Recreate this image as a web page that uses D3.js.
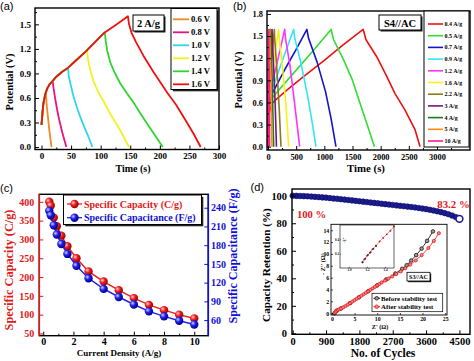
<!DOCTYPE html>
<html lang="en">
<head>
<meta charset="utf-8">
<title>GCD / rate / cycling figure</title>
<script src="https://cdnjs.cloudflare.com/ajax/libs/d3/7.8.5/d3.min.js"></script>
<style>
  body { margin: 0; background: #fff; }
  svg text { font-family: "Liberation Serif", "Times New Roman", serif; font-weight: bold; }
  .plab { font-family: "Liberation Sans", Arial, sans-serif !important; font-weight: normal !important; font-size: 11px; }
</style>
</head>
<body>
<svg id="fig" width="474" height="361"></svg>
<script>
// ---------- panel (a): GCD at 2 A/g, different voltage windows ----------
var aLabels = ["0.6 V", "0.8 V", "1.0 V", "1.2 V", "1.4 V", "1.6 V"];
var aColors = ["#f08a24", "#e8157e", "#2fd6ec", "#f2f21e", "#2fd62f", "#ee1111"];
var aCharge = [[0,0.27],[1,0.36],[2,0.45],[3,0.52],[5,0.6],[7,0.66],[10,0.72],[14,0.77],[18,0.8],
               [25,0.86],[35,0.92],[45,0.97],[60,1.07],[75,1.17],[90,1.28],[105,1.39],[125,1.49],[146,1.6]];
var aDis06 = [[8,0.6],[9,0.5],[11,0.36],[13,0.22],[15,0.11],[17,0]];
var aDis08 = [[19,0.8],[20,0.74],[22.5,0.62],[26,0.47],[30,0.33],[35,0.18],[42,0]];
var aDis10 = [[45,0.96],[46,0.87],[50,0.74],[54,0.62],[60,0.48],[66,0.36],[72,0.25],[78,0.15],[86,0]];
var aDis12 = [[77,1.18],[78.5,1.08],[82,0.95],[88,0.8],[96,0.67],[105,0.56],[115,0.42],[125,0.3],[135,0.18],[142,0.08],[148,0]];
var aDis14 = [[107,1.4],[108.5,1.3],[111,1.18],[116,1.04],[123,0.92],[133,0.78],[144,0.66],[156,0.54],[168,0.4],[180,0.27],[192,0.14],[205,0]];
var aDis16 = [[146,1.6],[148,1.5],[152,1.4],[160,1.28],[172,1.12],[189,0.92],[200,0.8],[212,0.67],[228,0.51],[245,0.31],[258,0.15],[269,0]];
var aDischarge = [aDis06, aDis08, aDis10, aDis12, aDis14, aDis16];
var aXTicks = [0, 50, 100, 150, 200, 250, 300];
var aXMinor = [25, 75, 125, 175, 225, 275];
var aYTicks = [0, 0.3, 0.6, 0.9, 1.2, 1.5];
var aYMinor = [0.15, 0.45, 0.75, 1.05, 1.35, 1.65];

// ---------- panel (b): S4//AC GCD at different current densities ----------
var bLabels = ["0.4 A/g", "0.5 A/g", "0.7 A/g", "0.9 A/g", "1.2 A/g", "1.6 A/g", "2.2 A/g", "3 A/g", "4 A/g", "5 A/g", "10 A/g"];
var bColors = ["#ee1111", "#33dd33", "#1414c8", "#33e4f4", "#ff33ff", "#f4f41a", "#8a7a16", "#7a147a", "#1e7a1e", "#ff8a14", "#ff1a8a"];
var bCurves = [
  [[0,0],[20,0.45],[60,0.58],[130,0.63],[340,0.77],[630,0.95],[1000,1.17],[1300,1.36],[1500,1.48],[1690,1.59],[1740,1.45],[1930,1.22],[2110,0.95],[2255,0.72],[2430,0.5],[2610,0.23],[2700,0]],
  [[0,0],[15,0.5],[70,0.66],[400,0.95],[800,1.3],[1120,1.59],[1165,1.45],[1340,1.18],[1490,0.92],[1620,0.62],[1760,0.3],[1890,0]],
  [[0,0],[10,0.55],[45,0.68],[300,1.05],[500,1.32],[690,1.59],[720,1.47],[870,1.15],[1020,0.75],[1120,0.38],[1206,0]],
  [[0,0],[10,0.6],[40,0.7],[200,1.05],[455,1.59],[475,1.47],[580,1.15],[700,0.7],[780,0.35],[851,0]],
  [[0,0],[8,0.62],[30,0.72],[150,1.1],[296,1.59],[310,1.47],[390,1.1],[470,0.6],[562,0]],
  [[0,0],[6,0.65],[20,0.74],[100,1.15],[189,1.59],[198,1.47],[260,1.05],[320,0.55],[367,0]],
  [[0,0],[5,0.68],[15,0.78],[60,1.15],[112,1.59],[118,1.47],[160,1.02],[200,0.5],[230,0]],
  [[0,0],[4,0.7],[12,0.8],[40,1.15],[72,1.59],[76,1.47],[105,1.0],[130,0.5],[150,0]],
  [[0,0],[3,0.72],[25,1.15],[48,1.59],[51,1.47],[72,0.95],[100,0]],
  [[0,0],[2,0.75],[15,1.15],[32,1.59],[34,1.47],[50,0.9],[70,0]],
  [[0,0],[1,0.8],[6,1.2],[13,1.59],[14,1.5],[19,0.9],[26,0]]
];
var bXTicks = [0, 500, 1000, 1500, 2000, 2500, 3000];
var bXMinor = [250, 750, 1250, 1750, 2250, 2750, 3250];
var bYTicks = [0, 0.3, 0.6, 0.9, 1.2, 1.5, 1.8];
var bYMinor = [0.15, 0.45, 0.75, 1.05, 1.35, 1.65];

// ---------- panel (c): rate capability ----------
var cCurrent = [0.4, 0.5, 0.7, 0.9, 1.2, 1.6, 2.2, 3, 4, 5, 6, 7, 8, 9, 10];
var cCapacity = [400, 390, 358, 335, 310, 282, 250, 215, 188, 165, 144, 126, 112, 100, 90];
var cCapacitance = [235, 228, 212, 197, 182, 166, 147, 127, 110, 97, 85, 74, 66, 59, 53];
var cXTicks = [0, 2, 4, 6, 8, 10];
var cXMinor = [1, 3, 5, 7, 9];
var cYLTicks = [50, 100, 150, 200, 250, 300, 350, 400];
var cYRTicks = [60, 90, 120, 150, 180, 210, 240];

// ---------- panel (d): cycling stability ----------
var dCycles = [0,100,200,300,400,500,600,700,800,900,1000,1100,1200,1300,1400,1500,1600,1700,1800,1900,
               2000,2100,2200,2300,2400,2500,2600,2700,2800,2900,3000,3100,3200,3300,3400,3500,3600,3700,
               3800,3900,4000,4100,4200,4300,4400,4500];
var dRetention = [100.0,99.9,99.8,99.7,99.6,99.4,99.2,99.0,98.8,98.6,98.3,98.0,97.8,97.5,97.2,96.9,96.6,96.3,96.0,95.7,
                  95.4,95.1,94.8,94.5,94.2,93.9,93.6,93.3,93.0,92.7,92.4,92.1,91.8,91.5,91.1,90.7,90.3,89.8,
                  89.3,88.7,88.1,87.4,86.6,85.6,84.5,83.2];
var dXTicks = [0, 900, 1800, 2700, 3600, 4500];
var dXMinor = [450, 1350, 2250, 3150, 4050];
var dYTicks = [0, 20, 40, 60, 80, 100];
var dYMinor = [10, 30, 50, 70, 90];
// inset Nyquist plot
var eisBefore = [[0.6,0],[1,0.4],[2,0.8],[4,1.7],[6,2.7],[8,3.7],[10,4.7],[12,5.7],[14,6.7],[15.5,7.5],
                 [16.5,8.1],[17.5,8.9],[18.6,9.8],[19.8,10.9],[21,12.2],[22.3,13.8]];
var eisAfter = [[0.6,0],[0.8,0.2],[1.0,0.4],[1.3,0.55],[1.6,0.65],[2.0,0.8],[2.5,1.0],[3.0,1.2],[3.5,1.45],[4,1.7],
                [4.5,1.95],[5,2.2],[5.5,2.45],[6,2.7],[6.5,2.95],[7,3.2],[7.5,3.45],[8,3.7],[8.5,3.95],[9,4.2],
                [9.5,4.45],[10,4.7],[10.5,4.95],[11,5.2],[11.7,5.5],[12.5,5.85],[13.3,6.2],[14.2,6.6],[15.2,7.05],
                [16.2,7.6],[17.3,8.2],[18.5,8.9],[19.8,9.8],[21.3,11.0],[22.5,12.2],[23.6,13.5]];
var eisXTicks = [0, 5, 10, 15, 20, 25];
var eisYTicks = [0, 2, 4, 6, 8, 10, 12, 14];
// zoomed high-frequency region
var hfBefore = [[1.15,0.08],[1.18,0.13],[1.21,0.18],[1.24,0.22],[1.27,0.27],[1.3,0.31]];
var hfAfter = [[1.15,0.08],[1.17,0.12],[1.2,0.17],[1.23,0.21],[1.26,0.26],[1.3,0.31],[1.34,0.37],[1.38,0.42],[1.42,0.47],[1.46,0.52],[1.5,0.58]];
var hfXTicks = [1.0, 1.2, 1.4];
var hfYTicks = [0.2, 0.4];

var SERIF = "'Liberation Serif','Times New Roman',serif";
var RED = "#e01818", BLUE = "#1010d8";
var svg = d3.select("#fig");

// gradient balls for panel (c)
var defs = svg.append("defs");
function ball(id, hi, mid, lo) {
  var gr = defs.append("radialGradient").attr("id", id).attr("cx", "35%").attr("cy", "35%").attr("r", "65%");
  gr.append("stop").attr("offset", "0%").attr("stop-color", hi);
  gr.append("stop").attr("offset", "45%").attr("stop-color", mid);
  gr.append("stop").attr("offset", "100%").attr("stop-color", lo);
}
ball("ballR", "#ffd0d0", "#f02020", "#a00000");
ball("ballB", "#d0d0ff", "#2020f0", "#00008a");

// inward ticks through d3 axes
function drawAxis(g, orient, scale, pos, major, minor, fmt, o) {
  var mk = orient == "bottom" ? d3.axisBottom : (orient == "left" ? d3.axisLeft : d3.axisRight);
  var tr = orient == "bottom" ? "translate(0," + pos + ")" : "translate(" + pos + ",0)";
  var col = o.color || "#000";
  if (minor) {
    var mi = g.append("g").attr("transform", tr)
      .call(mk(scale).tickValues(minor).tickSize(-(o.minorLen || 2)).tickFormat(""));
    mi.select(".domain").remove();
    mi.selectAll("line").attr("stroke", col).attr("stroke-width", o.tw || 1);
  }
  var ax = g.append("g").attr("transform", tr)
    .call(mk(scale).tickValues(major).tickSize(-(o.majorLen || 4)).tickPadding(o.pad).tickFormat(fmt));
  ax.select(".domain").remove();
  ax.attr("font-family", SERIF).attr("font-size", o.fs);
  ax.selectAll("line").attr("stroke", col).attr("stroke-width", o.tw || 1);
  ax.selectAll("text").attr("fill", o.textColor || "#000").attr("font-weight", "bold");
  return ax;
}
function frame(g, x, y, lw) {
  var xr = x.range(), yr = y.range();
  g.append("rect").attr("x", xr[0]).attr("y", yr[1]).attr("width", xr[1] - xr[0]).attr("height", yr[0] - yr[1])
    .attr("fill", "none").attr("stroke", "#000").attr("stroke-width", lw || 1.4);
}
function shadowBox(g, x, y, w, h, sh, lw) {
  g.append("rect").attr("x", x + sh).attr("y", y + sh).attr("width", w).attr("height", h).attr("fill", "#222");
  g.append("rect").attr("x", x).attr("y", y).attr("width", w).attr("height", h)
    .attr("fill", "#fff").attr("stroke", "#000").attr("stroke-width", lw || 1);
}
function label(g, txt, x, y, fs, opt) {
  opt = opt || {};
  var t = g.append("text").attr("x", x).attr("y", y).attr("font-size", fs)
    .attr("text-anchor", opt.anchor || "middle").attr("fill", opt.fill || "#000").text(txt);
  if (opt.rot) t.attr("transform", "rotate(" + opt.rot + "," + x + "," + y + ")");
  return t;
}
var f1 = d3.format(".1f");

// ================= (a) =================
var gA = svg.append("g");
var xA = d3.scaleLinear().domain([-11, 300]).range([35, 219]);
var yA = d3.scaleLinear().domain([-0.03, 1.70]).range([149.5, 8]);
var lineA = d3.line().x(function (d) { return xA(d[0]); }).y(function (d) { return yA(d[1]); });
aDischarge.forEach(function (dis, i) {
  var pts = aCharge.filter(function (d) { return d[0] < dis[0][0]; }).concat(dis);
  gA.append("path").attr("d", lineA(pts)).attr("fill", "none").attr("stroke", aColors[i])
    .attr("stroke-width", 1.8).attr("stroke-linejoin", "round");
});
drawAxis(gA, "bottom", xA, 149.5, aXTicks, aXMinor, d3.format("d"), { fs: 9, pad: 3.6 });
drawAxis(gA, "left", yA, 35, aYTicks, aYMinor, f1, { fs: 9, pad: 4 });
frame(gA, xA, yA);
shadowBox(gA, 133, 15, 31, 16, 1.5);
label(gA, "2 A/g", 148.5, 27, 10.5);
shadowBox(gA, 171, 8.5, 46, 81, 1.8);
aLabels.forEach(function (t, i) {
  var yy = 19.3 + i * 13;
  gA.append("line").attr("x1", 173).attr("x2", 189).attr("y1", yy).attr("y2", yy)
    .attr("stroke", aColors[i]).attr("stroke-width", 1.8);
  label(gA, t, 191, yy + 3, 8.6, { anchor: "start" });
});
label(gA, "Time (s)", 133, 172, 10);
label(gA, "Potential (V)", 13, 82, 10.4, { rot: -90 });
label(gA, "(a)", 0, 10, 11, { anchor: "start" }).attr("class", "plab");

// ================= (b) =================
var gB = svg.append("g");
var xB = d3.scaleLinear().domain([-18, 3586]).range([267, 470]);
var yB = d3.scaleLinear().domain([-0.045, 1.84]).range([150, 11]);
var lineB = d3.line().x(function (d) { return xB(d[0]); }).y(function (d) { return yB(d[1]); });
bCurves.forEach(function (c, i) {
  gB.append("path").attr("d", lineB(c)).attr("fill", "none").attr("stroke", bColors[i])
    .attr("stroke-width", 1.6).attr("stroke-linejoin", "round");
});
drawAxis(gB, "bottom", xB, 150, bXTicks, bXMinor, d3.format("d"), { fs: 8.4, pad: 3.6 });
drawAxis(gB, "left", yB, 267, bYTicks, bYMinor, f1, { fs: 8.4, pad: 4 });
frame(gB, xB, yB);
shadowBox(gB, 379, 15, 42, 15, 1.5);
label(gB, "S4//AC", 400, 26.5, 10.5);
gB.append("rect").attr("x", 424).attr("y", 11).attr("width", 45).attr("height", 136)
  .attr("fill", "#fff").attr("stroke", "#000").attr("stroke-width", 1);
bLabels.forEach(function (t, i) {
  var yy = 24 + i * 11.7;
  gB.append("line").attr("x1", 428).attr("x2", 443).attr("y1", yy).attr("y2", yy)
    .attr("stroke", bColors[i]).attr("stroke-width", 1.6);
  label(gB, t, 444.5, yy + 2, 6, { anchor: "start" });
});
label(gB, "Time (s)", 366, 172, 10.8);
label(gB, "Potential (V)", 242, 80, 10.4, { rot: -90 });
label(gB, "(b)", 233, 10, 11, { anchor: "start" }).attr("class", "plab");

// ================= (c) =================
var gC = svg.append("g");
var xC = d3.scaleLinear().domain([-0.26, 10.93]).range([39.3, 208.3]);
var yCL = d3.scaleLinear().domain([44, 420]).range([335.7, 194.3]);
var yCR = d3.scaleLinear().domain([35, 261.5]).range([335.7, 194.3]);
var lineCL = d3.line().x(function (d, i) { return xC(cCurrent[i]); }).y(function (d) { return yCL(d); });
var lineCR = d3.line().x(function (d, i) { return xC(cCurrent[i]); }).y(function (d) { return yCR(d); });
gC.append("path").attr("d", lineCL(cCapacity)).attr("fill", "none").attr("stroke", "#e82020").attr("stroke-width", 1.5);
gC.selectAll("circle.r").data(cCapacity).enter().append("circle").attr("class", "r")
  .attr("cx", function (d, i) { return xC(cCurrent[i]); }).attr("cy", function (d) { return yCL(d); })
  .attr("r", 4.2).attr("fill", "url(#ballR)");
gC.append("path").attr("d", lineCR(cCapacitance)).attr("fill", "none").attr("stroke", "#2020e8").attr("stroke-width", 1.5);
gC.selectAll("circle.b").data(cCapacitance).enter().append("circle").attr("class", "b")
  .attr("cx", function (d, i) { return xC(cCurrent[i]); }).attr("cy", function (d) { return yCR(d); })
  .attr("r", 4.2).attr("fill", "url(#ballB)");
drawAxis(gC, "bottom", xC, 335.7, cXTicks, cXMinor, d3.format("d"), { fs: 10, pad: 2 });
drawAxis(gC, "left", yCL, 39.3, cYLTicks, null, d3.format("d"), { fs: 10, pad: 5, color: RED, textColor: RED });
drawAxis(gC, "right", yCR, 208.3, cYRTicks, null, d3.format("d"), { fs: 10, pad: 2.7, color: BLUE, textColor: BLUE });
frame(gC, xC, yCL);
gC.append("line").attr("x1", 39.3).attr("x2", 39.3).attr("y1", 194.3).attr("y2", 335.7).attr("stroke", RED).attr("stroke-width", 1.6);
gC.append("line").attr("x1", 208.3).attr("x2", 208.3).attr("y1", 194.3).attr("y2", 335.7).attr("stroke", BLUE).attr("stroke-width", 1.6);
shadowBox(gC, 63.5, 195, 138, 29.5, 1.8);
[["Specific Capacity (C/g)", "url(#ballR)", "#e82020", RED, 204], ["Specific Capacitance (F/g)", "url(#ballB)", "#2020e8", BLUE, 217.7]]
  .forEach(function (e) {
    gC.append("line").attr("x1", 67).attr("x2", 82).attr("y1", e[4]).attr("y2", e[4]).attr("stroke", e[2]).attr("stroke-width", 1.3);
    gC.append("circle").attr("cx", 74.5).attr("cy", e[4]).attr("r", 4.2).attr("fill", e[1]);
    label(gC, e[0], 84, e[4] + 3.5, 10, { anchor: "start", fill: e[3] });
  });
label(gC, "Current Density (A/g)", 119, 356, 9);
label(gC, "Specific Capacity (C/g)", 12.5, 270, 12.3, { rot: -90, fill: RED });
label(gC, "Specific Capacitance (F/g)", 236.5, 256, 12.1, { rot: -90, fill: BLUE });
label(gC, "(c)", 0, 191.5, 11, { anchor: "start" }).attr("class", "plab");

// ================= (d) =================
var gD = svg.append("g");
var xD = d3.scaleLinear().domain([-19, 4785]).range([292, 470]);
var yD = d3.scaleLinear().domain([-0.7, 104.9]).range([334.3, 189]);
gD.selectAll("circle.ret").data(dRetention).enter().append("circle").attr("class", "ret")
  .attr("cx", function (d, i) { return xD(dCycles[i]); }).attr("cy", function (d) { return yD(d); })
  .attr("r", 2.8).attr("fill", "#1c1c8e").attr("stroke", "#0a0a6a").attr("stroke-width", 0.6);
gD.append("circle").attr("cx", xD(dCycles[dCycles.length - 1])).attr("cy", yD(dRetention[dRetention.length - 1]))
  .attr("r", 3.4).attr("fill", "#fff").attr("stroke", "#1c1c8e").attr("stroke-width", 1.6);
drawAxis(gD, "bottom", xD, 334.3, dXTicks, dXMinor, d3.format("d"), { fs: 10.4, pad: 3.5 });
drawAxis(gD, "left", yD, 292, dYTicks, dYMinor, d3.format("d"), { fs: 10.4, pad: 5 });
frame(gD, xD, yD);
label(gD, "100 %", 311.5, 218, 10.6, { fill: RED });
label(gD, "83.2 %", 453.5, 208, 10.8, { fill: RED });
label(gD, "No. of Cycles", 383, 357, 11.6);
label(gD, "Capacity Retention (%)", 270, 265, 11.2, { rot: -90 });
label(gD, "(d)", 250.5, 191, 11, { anchor: "start" }).attr("class", "plab");

// inset: Nyquist plot
var gI = gD.append("g");
var xI = d3.scaleLinear().domain([-0.2, 25.4]).range([331, 447]);
var yI = d3.scaleLinear().domain([-0.3, 15]).range([315, 224.3]);
gI.append("rect").attr("x", 331).attr("y", 224.3).attr("width", 116).attr("height", 90.7).attr("fill", "#fff");
var lineI = d3.line().x(function (d) { return xI(d[0]); }).y(function (d) { return yI(d[1]); });
gI.append("path").attr("d", lineI(eisBefore)).attr("fill", "none").attr("stroke", "#000").attr("stroke-width", 0.8);
gI.selectAll("circle.bf").data(eisBefore).enter().append("circle").attr("class", "bf")
  .attr("cx", function (d) { return xI(d[0]); }).attr("cy", function (d) { return yI(d[1]); })
  .attr("r", 1.8).attr("fill", "#9a9a9a").attr("stroke", "#000").attr("stroke-width", 0.7);
gI.append("path").attr("d", lineI(eisAfter)).attr("fill", "none").attr("stroke", "#e01010").attr("stroke-width", 0.8);
gI.selectAll("circle.af").data(eisAfter).enter().append("circle").attr("class", "af")
  .attr("cx", function (d) { return xI(d[0]); }).attr("cy", function (d) { return yI(d[1]); })
  .attr("r", 1.6).attr("fill", "#ff8080").attr("stroke", "#e01010").attr("stroke-width", 0.7);
drawAxis(gI, "bottom", xI, 315, eisXTicks, null, d3.format("d"), { fs: 5.8, pad: 2, majorLen: 2, tw: 0.7 });
drawAxis(gI, "left", yI, 331, eisYTicks, null, d3.format("d"), { fs: 5.8, pad: 1.8, majorLen: 2, tw: 0.7 });
frame(gI, xI, yI, 0.9);
label(gI, "Z' (\u03A9)", 380, 329, 6.2);
label(gI, "- Z'' (\u03A9)", 324.5, 264, 6.2, { rot: -90 });
shadowBox(gI, 407, 272.3, 23, 8.7, 1.2, 0.8);
label(gI, "S3//AC", 418.5, 279.2, 6.2);
gI.append("rect").attr("x", 372).attr("y", 293.3).attr("width", 70.7).attr("height", 18.4)
  .attr("fill", "#fff").attr("stroke", "#000").attr("stroke-width", 0.7);
[["Before stability test", "#000", "#9a9a9a", 298.3], ["After stability test", "#e01010", "#ff8080", 306.7]]
  .forEach(function (e) {
    gI.append("line").attr("x1", 373.5).attr("x2", 380).attr("y1", e[3]).attr("y2", e[3]).attr("stroke", e[1]).attr("stroke-width", 0.9);
    gI.append("circle").attr("cx", 376.7).attr("cy", e[3]).attr("r", 1.8).attr("fill", e[2]).attr("stroke", e[1]).attr("stroke-width", 0.7);
    label(gI, e[0], 381, e[3] + 2.3, 6.8, { anchor: "start" });
  });

// nested zoom of the high-frequency part
var gN = gI.append("g");
var xN = d3.scaleLinear().domain([0.9, 1.5]).range([340, 394]);
var yN = d3.scaleLinear().domain([0, 0.6]).range([268, 225]);
gN.append("rect").attr("x", 340).attr("y", 225).attr("width", 54).attr("height", 43).attr("fill", "#fff");
gN.selectAll("circle.na").data(hfAfter).enter().append("circle").attr("class", "na")
  .attr("cx", function (d) { return xN(d[0]); }).attr("cy", function (d) { return yN(d[1]); })
  .attr("r", 0.9).attr("fill", "#e01010");
gN.append("path").attr("d", lineI.x(function (d) { return xN(d[0]); }).y(function (d) { return yN(d[1]); })(hfAfter))
  .attr("fill", "none").attr("stroke", "#e01010").attr("stroke-width", 0.5);
gN.selectAll("circle.nb").data(hfBefore).enter().append("circle").attr("class", "nb")
  .attr("cx", function (d) { return xN(d[0]); }).attr("cy", function (d) { return yN(d[1]); })
  .attr("r", 1).attr("fill", "#333");
drawAxis(gN, "bottom", xN, 268, hfXTicks, null, f1, { fs: 3.2, pad: 1, majorLen: 1.2, tw: 0.5 });
drawAxis(gN, "left", yN, 340, hfYTicks, null, f1, { fs: 3.2, pad: 1, majorLen: 1.2, tw: 0.5 });
frame(gN, xN, yN, 0.6);
label(gN, "-Z''", 346, 240, 3.2, { rot: -90 });
</script>
</body>
</html>
